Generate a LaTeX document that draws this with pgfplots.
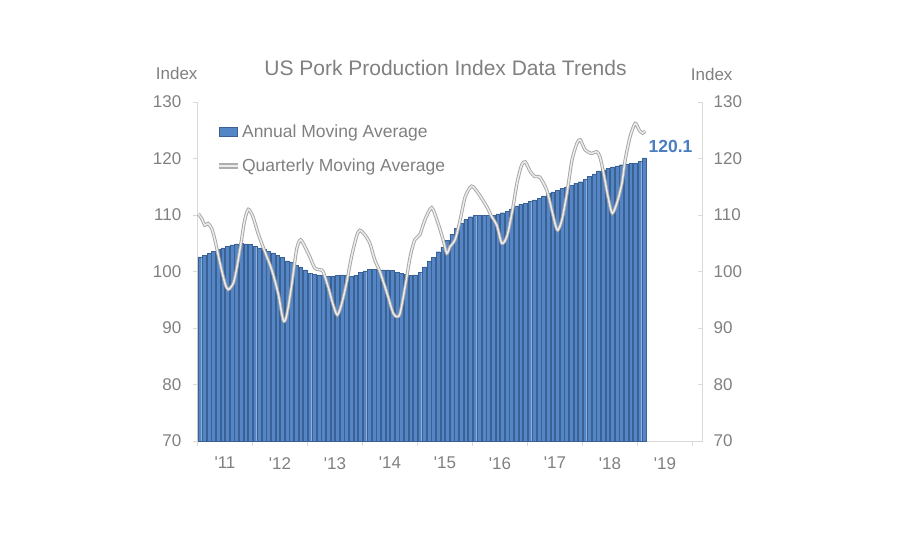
\documentclass[border=0pt]{standalone}
\usepackage{fontspec}
\setmainfont{Liberation Sans}
\usepackage{pgfplots}
\usepackage{pgfplotstable}
\pgfplotsset{compat=1.18}

\definecolor{txtgray}{RGB}{128,128,128}
\definecolor{axgray}{RGB}{217,217,217}
\definecolor{barblue}{RGB}{84,134,198}
\definecolor{bardark}{RGB}{58,96,148}
\definecolor{linegray}{RGB}{165,165,165}
\definecolor{lineinner}{RGB}{236,236,236}
\definecolor{labelblue}{RGB}{74,126,193}

% Annual moving average, one value per month (Jan 2011 = 0)
\pgfplotstableread{
m v
0 102.6
1 102.9
2 103.2
3 103.6
4 103.9
5 104.2
6 104.5
7 104.7
8 104.9
9 105.0
10 104.9
11 104.8
12 104.5
13 104.2
14 103.9
15 103.6
16 103.3
17 102.9
18 102.5
19 101.9
20 101.6
21 101.1
22 100.8
23 100.3
24 99.7
25 99.5
26 99.4
27 99.3
28 99.2
29 99.2
30 99.3
31 99.4
32 99.3
33 99.2
34 99.3
35 99.8
36 100.1
37 100.4
38 100.4
39 100.3
40 100.3
41 100.3
42 100.2
43 99.9
44 99.7
45 99.5
46 99.3
47 99.4
48 99.8
49 100.8
50 101.8
51 102.5
52 103.5
53 104.3
54 105.5
55 106.6
56 107.6
57 108.5
58 109.2
59 109.7
60 109.9
61 110.0
62 110.0
63 110.0
64 110.0
65 110.2
66 110.4
67 110.7
68 111.1
69 111.6
70 111.9
71 112.1
72 112.4
73 112.7
74 113.0
75 113.4
76 113.8
77 114.1
78 114.4
79 114.7
80 115.0
81 115.3
82 115.6
83 115.9
84 116.3
85 116.8
86 117.3
87 117.8
88 118.0
89 118.3
90 118.5
91 118.7
92 118.9
93 119.0
94 119.1
95 119.2
96 119.5
97 120.1
}\annual

% Quarterly moving average
\pgfplotstableread{
m v
-0.3 110.2
0.4 109.4
1.1 108.2
1.8 108.5
2.6 107.6
3.3 105.6
4.4 101.5
5.5 97.9
6.2 96.8
7.3 97.9
8.0 100.3
9.1 105.6
9.8 109.1
10.6 111.0
11.6 109.7
12.7 106.8
14.2 103.5
15.7 100.3
17.1 96.1
18.2 91.4
18.9 92.0
20.0 97.3
21.1 103.8
22.0 105.6
23.3 103.8
24.0 102.6
25.1 100.6
26.2 100.3
26.9 100.0
28.0 97.3
29.1 94.1
30.0 92.3
30.9 94.1
32.0 97.9
33.1 102.6
34.2 106.2
34.9 107.3
36.0 106.5
37.1 105.0
38.2 102.0
39.3 100.0
40.4 97.3
41.1 95.5
42.2 92.6
43.0 92.0
43.7 92.6
44.8 97.3
45.9 102.6
46.9 105.6
48.0 106.5
49.1 109.1
50.6 111.3
52.0 108.5
53.1 105.6
53.9 103.2
54.6 104.4
55.7 105.6
56.8 109.1
57.9 113.2
59.3 115.1
60.8 113.8
62.6 111.5
63.7 109.7
64.8 108.2
65.9 105.0
67.0 106.2
68.1 110.3
69.2 115.6
70.2 118.8
71.0 119.4
72.1 117.7
73.1 116.8
74.2 116.7
75.7 114.4
76.8 110.9
77.5 108.5
78.1 107.3
79.0 109.1
80.1 113.8
81.2 119.7
82.3 122.7
83.0 123.3
84.1 121.5
85.5 120.9
86.6 121.2
87.3 120.3
88.1 117.4
89.2 112.7
90.0 110.3
91.0 112.1
92.1 115.6
92.8 119.7
93.9 123.9
95.0 126.2
95.9 125.0
96.6 124.5
97.2 124.9
}\quarterly

\pgfplotsset{
  common/.style={
    at={(0pt,0pt)}, anchor=south west,
    scale only axis, width=505pt, height=339pt,
    xmin=-0.5, xmax=109.68, ymin=70, ymax=130,
    ytick={70,80,...,130},
    axis line style={axgray, line width=1pt, -},
    tick style={axgray, line width=0.8pt},
    major tick length=5pt,
    /pgf/number format/assume math mode=true,
    ticklabel style={font=\fontsize{17}{20}\selectfont, text=txtgray},
  }
}

\begin{document}
\begin{tikzpicture}
\useasboundingbox (-197.5pt,-109pt) rectangle (702.5pt,441pt);

\begin{axis}[common,
  axis x line*=bottom, axis y line*=left,
  tick align=outside,
  yticklabel style={anchor=east, inner sep=0pt, xshift=-11pt},
  xtick={-0.5,11.5,...,107.5}, xticklabels={},
  extra x ticks={5.5,17.5,...,101.5},
  extra x tick labels={\textquotesingle11,\textquotesingle12,\textquotesingle13,\textquotesingle14,\textquotesingle15,\textquotesingle16,\textquotesingle17,\textquotesingle18,\textquotesingle19},
  extra x tick style={major tick length=0pt, xticklabel style={anchor=north, inner sep=0pt, yshift=-16pt}},
  legend style={at={(0.0366,0.936)}, anchor=north west, draw=none, fill=none,
    font=\fontsize{17.5}{20}\selectfont, text=txtgray, row sep=18pt,
    inner sep=0pt, nodes={inner sep=1pt}},
  legend cell align=left,
]
\addplot[ybar, bar width=0.84, fill=barblue, draw=bardark, line width=0.3pt,
  legend image code/.code={\draw[fill=barblue, draw=bardark, line width=0.5pt] (0pt,-4.3pt) rectangle (18pt,4.3pt);}]
  table[x=m, y=v] {\annual};
\addlegendentry{Annual Moving Average}
\addplot[smooth, tension=0.45, draw=linegray, line width=0.9pt, double=lineinner, double distance=1.5pt,
  legend image code/.code={\draw[draw=linegray!90, line width=2.2pt] (0pt,0pt) -- (19pt,0pt);}]
  table[x=m, y=v] {\quarterly};
\addlegendentry{Quarterly Moving Average}
\node[anchor=south west, inner sep=0pt, xshift=4pt, yshift=5.5pt, text=labelblue,
  font=\fontsize{17.5}{20}\selectfont\bfseries] at (axis cs:97,120.1) {120.1};
\end{axis}

\begin{axis}[common,
  axis x line=none, axis y line*=right,
  tick align=inside,
  yticklabel style={anchor=west, inner sep=0pt, xshift=11pt},
]
\end{axis}

\node[anchor=base, text=txtgray, font=\fontsize{21}{25}\selectfont] at (248pt,365pt) {US Pork Production Index Data Trends};
\node[anchor=base, text=txtgray, font=\fontsize{17}{20}\selectfont] at (-20.8pt,361.7pt) {Index};
\node[anchor=base, text=txtgray, font=\fontsize{17}{20}\selectfont] at (514.2pt,360.3pt) {Index};
\end{tikzpicture}
\end{document}
